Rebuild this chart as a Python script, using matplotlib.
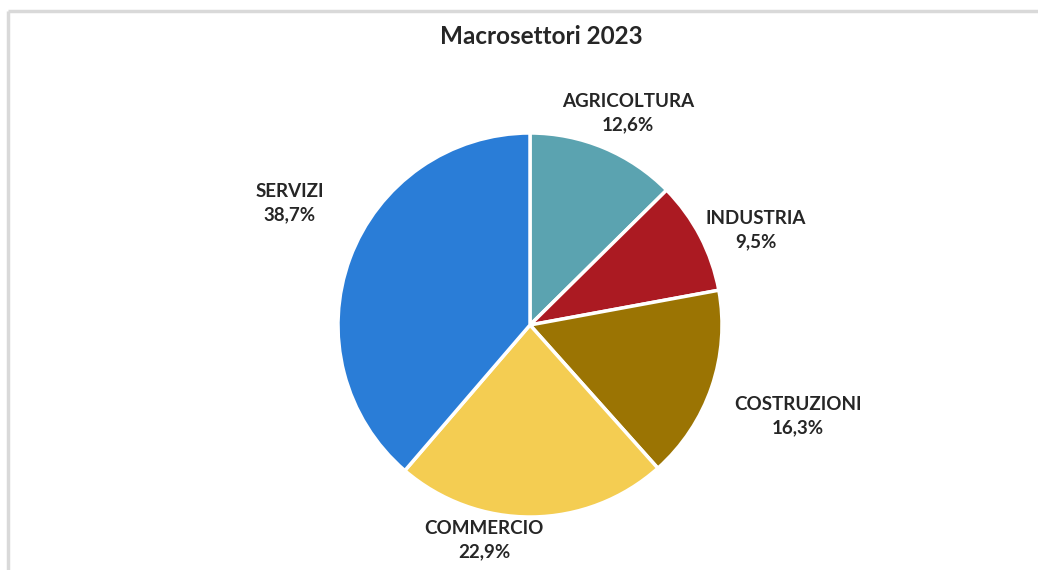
import matplotlib
matplotlib.use('Agg')
import matplotlib.pyplot as plt
import numpy as np

# sector shares, 2023
settori = ["AGRICOLTURA", "INDUSTRIA", "COSTRUZIONI", "COMMERCIO", "SERVIZI"]
quote = [12.6, 9.5, 16.3, 22.9, 38.7]
colori = ["#5BA3B0", "#AB1A22", "#9B7403", "#F4CD52", "#2A7DD7"]

# label anchor (pixels from top-left of the figure)
pos_etichette = [(628, 113), (756, 230), (798, 416), (484, 540), (290, 203)]

W, H = 1038, 570
fig = plt.figure(figsize=(W / 100, H / 100), dpi=100)
ax = fig.add_axes([0, 0, 1, 1])
ax.set_xlim(0, W)
ax.set_ylim(0, H)
ax.set_aspect('equal')
ax.axis('off')

# light gray chart frame (top and left edges)
ax.plot([8, W], [H - 11, H - 11], color="#D9D9D9", lw=2.5, solid_capstyle='butt')
ax.plot([8, 8], [0, H - 11], color="#D9D9D9", lw=2.5, solid_capstyle='butt')

cx, cy, r = 530, H - 325, 192
ax.pie(quote, colors=colori, startangle=90, counterclock=False,
       center=(cx, cy), radius=r, frame=True,
       wedgeprops=dict(edgecolor="white", linewidth=2.5))
ax.set_xlim(0, W)
ax.set_ylim(0, H)
ax.axis('off')

font = "Lato"
for nome, q, (px, py) in zip(settori, quote, pos_etichette):
    testo = nome + "\n" + f"{q:.1f}".replace(".", ",") + "%"
    ax.text(px, H - py, testo, ha="center", va="center", fontsize=13.5,
            fontweight="bold", color="#262626", family=font, linespacing=1.45)

ax.text(541, H - 36, "Macrosettori 2023", ha="center", va="center",
        fontsize=17.5, fontweight="bold", color="#262626", family=font)

fig.savefig("out.png", dpi=100)
